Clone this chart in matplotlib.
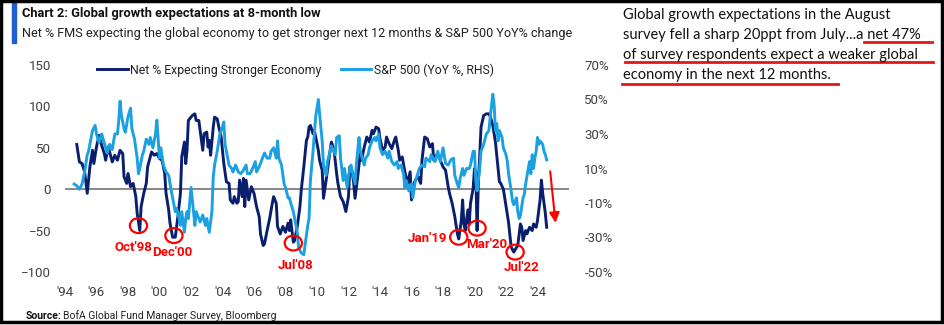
import matplotlib
matplotlib.use("Agg")
import matplotlib.pyplot as plt
import matplotlib.dates as mdates
from matplotlib.patches import Ellipse, Rectangle
from matplotlib.lines import Line2D
import pandas as pd

# Net % of FMS expecting a stronger economy (LHS)
fms_dates = [
    "1994-10", "1994-12", "1995-02", "1995-04", "1995-06", "1995-08", "1995-10", "1995-11",
    "1996-01", "1996-03", "1996-05", "1996-07", "1996-08", "1996-10", "1997-01", "1997-03",
    "1997-05", "1997-07", "1997-09", "1997-10", "1997-12", "1998-01", "1998-03", "1998-05",
    "1998-07", "1998-08", "1998-10", "1998-11", "1999-01", "1999-03", "1999-04", "1999-07",
    "1999-09", "1999-11", "2000-01", "2000-03", "2000-05", "2000-06", "2000-08", "2000-09",
    "2000-11", "2001-01", "2001-03", "2001-05", "2001-06", "2001-08", "2001-09", "2001-10",
    "2001-11", "2002-02", "2002-04", "2002-05", "2002-07", "2002-09", "2002-10", "2002-11",
    "2003-01", "2003-02", "2003-03", "2003-04", "2003-06", "2003-07", "2003-09", "2003-10",
    "2003-12", "2004-01", "2004-02", "2004-04", "2004-06", "2004-07", "2004-09", "2004-10",
    "2004-12", "2005-01", "2005-02", "2005-04", "2005-05", "2005-06", "2005-07", "2005-09",
    "2005-11", "2006-01", "2006-03", "2006-05", "2006-06", "2006-08", "2006-09", "2006-11",
    "2007-01", "2007-03", "2007-04", "2007-06", "2007-07", "2007-09", "2007-11", "2008-01",
    "2008-03", "2008-04", "2008-05", "2008-07", "2008-08", "2008-10", "2008-12", "2009-01",
    "2009-03", "2009-05", "2009-06", "2009-07", "2009-08", "2009-10", "2009-11", "2010-02",
    "2010-03", "2010-05", "2010-06", "2010-08", "2010-10", "2010-12", "2011-02", "2011-04",
    "2011-05", "2011-07", "2011-09", "2011-11", "2012-01", "2012-02", "2012-04", "2012-05",
    "2012-06", "2012-08", "2012-10", "2012-11", "2013-01", "2013-03", "2013-05", "2013-07",
    "2013-08", "2013-10", "2013-12", "2014-01", "2014-03", "2014-05", "2014-06", "2014-08",
    "2014-10", "2014-12", "2015-01", "2015-03", "2015-04", "2015-06", "2015-08", "2015-10",
    "2015-12", "2016-01", "2016-03", "2016-04", "2016-06", "2016-08", "2016-09", "2016-11",
    "2017-01", "2017-03", "2017-05", "2017-06", "2017-08", "2017-10", "2018-01", "2018-03",
    "2018-05", "2018-06", "2018-08", "2018-10", "2018-12", "2019-01", "2019-03", "2019-04",
    "2019-05", "2019-06", "2019-08", "2019-09", "2019-10", "2019-12", "2020-01", "2020-02",
    "2020-03", "2020-04", "2020-05", "2020-06", "2020-08", "2020-10", "2020-12", "2021-01",
    "2021-03", "2021-05", "2021-06", "2021-08", "2021-09", "2021-11", "2022-01", "2022-03",
    "2022-05", "2022-07", "2022-08", "2022-10", "2022-12", "2023-01", "2023-02", "2023-04",
    "2023-05", "2023-07", "2023-09", "2023-10", "2023-12", "2024-01", "2024-03", "2024-04",
    "2024-05", "2024-07", "2024-08",
]
fms_net = [
    54, 33, 31, 21, -5, 27, 47, 31,
    51, 65, 53, 43, 35, 51, 33, 41,
    35, 47, 43, 15, 7, 19, 3, 7,
    -9, -29, -50, -21, -5, 7, 27, 45,
    41, 43, 37, 35, 19, -5, -25, -41,
    -58, -58, -34, -5, 39, 57, 31, 47,
    83, 89, 91, 83, 83, 59, 47, 67,
    69, 51, 59, 41, 75, 87, 85, 77,
    63, 47, 31, 9, 7, -13, -17, -9,
    -17, -15, 11, -9, 13, -21, 11, -13,
    3, -5, -21, -33, -54, -68, -66, -50,
    -35, -17, -9, -17, -45, -54, -45, -52,
    -41, -50, -37, -64, -62, -45, -21, -1,
    27, 59, 63, 75, 77, 67, 71, 47,
    35, 23, -11, 11, 35, 57, 47, 19,
    7, -9, -15, -27, -9, 27, 19, 7,
    -11, 15, 43, 35, 51, 63, 57, 71,
    67, 75, 73, 61, 47, 51, 63, 55,
    49, 59, 63, 47, 35, 39, 21, 7,
    21, -13, 7, 11, 15, 7, 35, 63,
    61, 51, 55, 35, 41, 39, 27, 23,
    3, -5, -17, -33, -54, -60, -38, -13,
    -42, -50, -25, -42, -17, 1, 25, 20,
    -50, 10, 40, 75, 89, 91, 91, 88,
    77, 57, 41, 9, 7, 0, -20, -40,
    -70, -76, -73, -68, -42, -46, -62, -50,
    -54, -46, -50, -42, -46, -38, -13, 11,
    -5, -29, -46,
]

# S&P 500 YoY % change (RHS)
spx_dates = [
    "1994-08", "1994-10", "1994-12", "1995-02", "1995-04", "1995-06", "1995-07", "1995-10",
    "1995-12", "1996-01", "1996-03", "1996-05", "1996-08", "1996-09", "1996-11", "1997-01",
    "1997-03", "1997-05", "1997-06", "1997-07", "1997-08", "1997-10", "1997-11", "1998-01",
    "1998-03", "1998-04", "1998-05", "1998-06", "1998-08", "1998-09", "1998-10", "1998-12",
    "1999-01", "1999-03", "1999-05", "1999-06", "1999-08", "1999-10", "1999-11", "2000-01",
    "2000-02", "2000-04", "2000-06", "2000-08", "2000-10", "2000-11", "2001-01", "2001-02",
    "2001-04", "2001-05", "2001-06", "2001-08", "2001-09", "2001-10", "2001-11", "2002-01",
    "2002-03", "2002-04", "2002-05", "2002-07", "2002-08", "2002-10", "2002-12", "2003-01",
    "2003-03", "2003-05", "2003-06", "2003-07", "2003-09", "2003-11", "2004-01", "2004-02",
    "2004-03", "2004-05", "2004-06", "2004-08", "2004-09", "2004-11", "2005-01", "2005-03",
    "2005-05", "2005-07", "2005-08", "2005-10", "2005-12", "2006-02", "2006-03", "2006-05",
    "2006-07", "2006-09", "2006-11", "2007-01", "2007-02", "2007-04", "2007-06", "2007-07",
    "2007-08", "2007-10", "2007-12", "2008-01", "2008-03", "2008-04", "2008-05", "2008-07",
    "2008-08", "2008-10", "2008-11", "2009-01", "2009-03", "2009-04", "2009-06", "2009-07",
    "2009-08", "2009-10", "2009-12", "2010-02", "2010-03", "2010-05", "2010-06", "2010-08",
    "2010-09", "2010-11", "2010-12", "2011-03", "2011-04", "2011-06", "2011-07", "2011-09",
    "2011-10", "2011-12", "2012-01", "2012-03", "2012-04", "2012-06", "2012-07", "2012-09",
    "2012-10", "2013-01", "2013-02", "2013-04", "2013-05", "2013-07", "2013-09", "2013-10",
    "2013-12", "2014-01", "2014-03", "2014-05", "2014-07", "2014-08", "2014-10", "2014-12",
    "2015-02", "2015-03", "2015-05", "2015-07", "2015-08", "2015-09", "2015-11", "2016-01",
    "2016-02", "2016-04", "2016-05", "2016-07", "2016-09", "2016-11", "2016-12", "2017-03",
    "2017-04", "2017-07", "2017-09", "2017-11", "2018-01", "2018-03", "2018-05", "2018-07",
    "2018-09", "2018-10", "2018-12", "2019-01", "2019-02", "2019-04", "2019-05", "2019-07",
    "2019-09", "2019-10", "2019-12", "2020-01", "2020-02", "2020-03", "2020-05", "2020-06",
    "2020-08", "2020-10", "2020-12", "2021-01", "2021-03", "2021-04", "2021-05", "2021-06",
    "2021-07", "2021-08", "2021-10", "2021-11", "2022-01", "2022-02", "2022-03", "2022-05",
    "2022-06", "2022-07", "2022-09", "2022-10", "2022-11", "2022-12", "2023-02", "2023-03",
    "2023-04", "2023-06", "2023-07", "2023-08", "2023-09", "2023-10", "2023-11", "2023-12",
    "2024-01", "2024-02", "2024-03", "2024-05", "2024-06", "2024-07", "2024-08",
]
spx_yoy = [
    1, 0, -2, 1, 8, 18, 20, 32,
    35, 30, 25, 30, 22, 19, 24, 21,
    30, 30, 38, 49, 41, 33, 31, 40,
    45, 33, 30, 27, 16, 7, 10, 18,
    20, 27, 24, 28, 22, 30, 38, 16,
    22, 12, 8, 6, -3, -7, -15, -13,
    -19, -23, -15, -27, -19, -15, -19, -1,
    -15, -23, -15, -19, -21, -17, -23, -19,
    -27, -15, 5, 12, 20, 30, 34, 37,
    24, 16, 12, 10, 8, 12, 8, 7,
    9, 12, 7, 7, 10, 14, 8, 11,
    15, 19, 16, 16, 20, 22, 16, 26,
    16, 12, 1, -1, -7, -7, -10, -15,
    -19, -27, -36, -39, -40, -34, -23, -19,
    3, 20, 40, 50, 42, 26, 12, 6,
    14, 20, 23, 18, 28, 29, 16, 3,
    10, -1, 6, 12, 8, 1, 12, 28,
    20, 12, 16, 18, 22, 26, 28, 26,
    30, 22, 18, 20, 16, 20, 14, 12,
    14, 10, 12, 7, -1, 3, -3, 1,
    -7, 3, 5, 10, 12, 11, 16, 14,
    18, 14, 20, 14, 22, 13, 12, 15,
    16, 6, 1, -1, 4, 10, 6, 10,
    10, 12, 20, 20, 3, -3, 10, 20,
    24, 30, 32, 40, 53, 47, 32, 36,
    26, 32, 28, 22, 18, 14, 7, -3,
    -9, -11, -7, -15, -19, -17, -7, -5,
    1, 10, 14, 7, 18, 10, 16, 20,
    28, 24, 26, 24, 20, 18, 15,
]

# red circled lows
low_labels = ["Oct'98", "Dec'00", "Jul'08", "Jan'19", "Mar'20", "Jul'22"]
low_dates = ["1998-09", "2000-12", "2008-07", "2019-01", "2020-03", "2022-08"]
low_vals = [-44, -56, -65, -58, -47, -76]
label_dates = ["1998-05", "2000-11", "2008-09", "2017-01", "2020-10", "2023-01"]
label_vals = [-70, -76, -92, -60, -67, -95]

NAVY = "#0a1e6e"
LIGHT = "#1ba1e2"
RED = "#ff0000"
GREY = "#404040"

plt.rcParams["font.family"] = ["Roboto", "DejaVu Sans"]

W, H = 944, 325
fig = plt.figure(figsize=(W / 100, H / 100), dpi=100)


def fx(px):
    return px / W


def fy(py):
    return 1 - py / H


def dnum(s):
    return mdates.date2num(pd.Timestamp(s))


ax = fig.add_axes([fx(65), fy(272), fx(569 - 65), (272 - 65) / H])
ax2 = ax.twinx()

fms_x = pd.to_datetime(fms_dates)
spx_x = pd.to_datetime(spx_dates)

ax.axhline(0, color="#7f7f7f", lw=1.3, zorder=1)
l1, = ax.plot(fms_x, fms_net, color=NAVY, lw=2.1, label="Net % Expecting Stronger Economy", zorder=3)
l2, = ax2.plot(spx_x, spx_yoy, color=LIGHT, lw=2.1, label="S&P 500 (YoY %, RHS)", zorder=3)

ax.set_xlim(pd.Timestamp("1994-01-01"), pd.Timestamp("2026-01-01"))
ax.set_ylim(-100, 150)
ax.set_yticks([-100, -50, 0, 50, 100, 150])
ax2.set_ylim(-50, 70)
ax2.set_yticks([-50, -30, -10, 10, 30, 50, 70])
ax2.set_yticklabels(["%d%%" % v for v in [-50, -30, -10, 10, 30, 50, 70]])
ax.set_xticks(pd.to_datetime(["%d-01-01" % y for y in range(1994, 2025, 2)]))
ax.xaxis.set_major_formatter(mdates.DateFormatter("'%y"))

for a in (ax, ax2):
    for s in a.spines.values():
        s.set_visible(False)
    a.tick_params(length=0, labelsize=9.5, colors=GREY)
ax.tick_params(axis="y", pad=10)
ax2.tick_params(axis="y", pad=11)
ax.tick_params(axis="x", pad=10)

# circles and labels for the lows
for lab, d, v, ld, lv in zip(low_labels, low_dates, low_vals, label_dates, label_vals):
    ax2.add_patch(Ellipse((dnum(d), v), width=400, height=18, fill=False, edgecolor=RED,
                          lw=1.6, transform=ax.transData, zorder=5))
    ax2.text(dnum(ld), lv, lab, transform=ax.transData, color=RED,
             fontsize=9.5, fontweight="bold", ha="center", va="center", zorder=5)

# red arrow showing the latest drop
ax2.annotate("", xy=(dnum("2025-03-01"), -44), xytext=(dnum("2024-10-15"), 25),
             xycoords=ax.transData, textcoords=ax.transData,
             arrowprops=dict(arrowstyle="-|>,head_length=0.6,head_width=0.3", color=RED, lw=1.5))

fig.legend(handles=[l1, l2], loc="center left", bbox_to_anchor=(fx(97), fy(70)), ncol=2,
           frameon=False, fontsize=8.8, handlelength=2.5, handletextpad=0.2,
           columnspacing=1.6, borderpad=0, borderaxespad=0, labelcolor="#222222")

# header
fig.patches.append(Rectangle((fx(12), fy(43)), fx(4), 41 / H, transform=fig.transFigure,
                             color="#1f5fd1", zorder=2))
fig.text(fx(22), fy(14), "Chart 2: Global growth expectations at 8-month low", fontsize=9.3,
         fontweight="bold", color="#111111", va="center")
fig.text(fx(22), fy(33), "Net % FMS expecting the global economy to get stronger next 12 months & S&P 500 YoY% change",
         fontsize=9.1, color="#222222", va="center")

# source
fig.text(fx(26), fy(316), "Source:", fontsize=7.5, fontweight="bold", color="#111111", va="center")
fig.text(fx(63), fy(316), "BofA Global Fund Manager Survey, Bloomberg", fontsize=7.5, color="#222222", va="center")

# commentary on the right
notes = [
    "Global growth expectations in the August",
    "survey fell a sharp 20ppt from July...a net 47%",
    "of survey respondents expect a weaker global",
    "economy in the next 12 months.",
]
for i, line in enumerate(notes):
    fig.text(fx(623), fy(15 + 20 * i), line, fontsize=10.5, family="Lato", color="#111111", va="center")
for x0, x1, yy in [(864, 932, 42), (625, 933, 62), (622, 838, 84)]:
    fig.lines.append(Line2D([fx(x0), fx(x1)], [fy(yy), fy(yy)], transform=fig.transFigure,
                            color="#e8141c", lw=2))

# outer frame
fig.patches.append(Rectangle((fx(1), fy(322)), fx(941), 321 / H, transform=fig.transFigure,
                             fill=False, edgecolor="black", lw=2.5, zorder=10))

fig.savefig("out.png", dpi=100)
